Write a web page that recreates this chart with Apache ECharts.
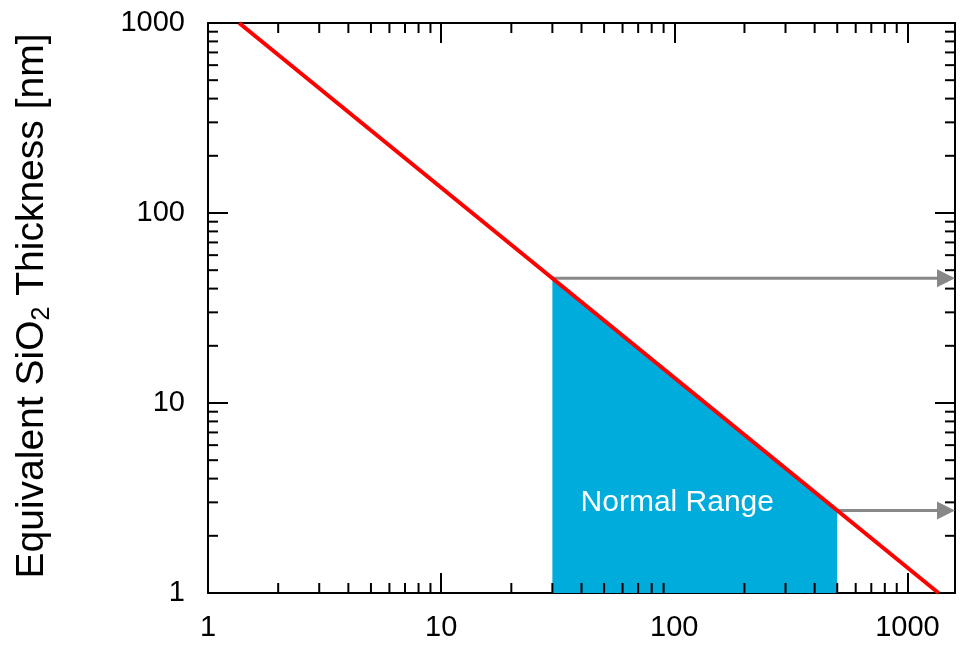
<!DOCTYPE html>
<html>
<head>
<meta charset="utf-8">
<script src="https://cdn.jsdelivr.net/npm/echarts@6/dist/echarts.min.js"></script>
<style>
  html, body { margin: 0; padding: 0; background: #fff; }
  #chart { width: 962px; height: 648px; }
</style>
</head>
<body>
<div id="chart"></div>
<script>
// axis ranges (log scales)
const X_MIN = 1, X_MAX = 1600
const Y_MIN = 1, Y_MAX = 1000

// minor tick values between decades
const xMinor = [2, 3, 4, 5, 6, 7, 8, 9, 20, 30, 40, 50, 60, 70, 80, 90, 200, 300, 400, 500, 600, 700, 800, 900]
const yMinor = [2, 3, 4, 5, 6, 7, 8, 9, 20, 30, 40, 50, 60, 70, 80, 90, 200, 300, 400, 500, 600, 700, 800, 900]

// red limit line (thickness vs x)
const limitX = [1.36, 1360]
const limitY = [1000, 1]

// shaded "normal range"
const rangeX = [30, 500]
const rangeTop = [45.3, 2.72]

// arrows start on the red line and run to the right edge
const arrowX = [30, 500]
const arrowY = [45.3, 2.72]

const labelPos = [103, 3.0]
const labelText = 'Normal Range'

const FONT = 'Arial, "Liberation Sans", sans-serif'

const chart = echarts.init(document.getElementById('chart'))

const isPow10 = v => Math.abs(Math.log10(v) - Math.round(Math.log10(v))) < 1e-6

const axisCommon = {
  type: 'log',
  logBase: 10,
  axisLine: { show: true, onZero: false, lineStyle: { color: '#000', width: 2 } },
  axisTick: { show: true, inside: true, length: 20, lineStyle: { color: '#000', width: 2 } },
  splitLine: { show: false },
  minorTick: { show: false },
  minorSplitLine: { show: false }
}

const labelCommon = {
  color: '#000',
  fontSize: 29,
  fontFamily: FONT,
  showMaxLabel: false,
  formatter: v => (isPow10(v) ? String(Math.round(v)) : '')
}

const option = {
  animation: false,
  backgroundColor: '#fff',
  grid: { left: 208, right: 7, top: 23, bottom: 55, containLabel: false },
  xAxis: [
    Object.assign({}, axisCommon, {
      min: X_MIN, max: X_MAX, position: 'bottom',
      axisLabel: Object.assign({}, labelCommon, { margin: 20 })
    }),
    Object.assign({}, axisCommon, {
      min: X_MIN, max: X_MAX, position: 'top',
      axisLabel: { show: false }
    })
  ],
  yAxis: [
    Object.assign({}, axisCommon, {
      min: Y_MIN, max: Y_MAX, position: 'left',
      axisLabel: Object.assign({}, labelCommon, { margin: 23, showMaxLabel: true })
    }),
    Object.assign({}, axisCommon, {
      min: Y_MIN, max: Y_MAX, position: 'right',
      axisLabel: { show: false }
    })
  ],
  graphic: [{
    type: 'text',
    x: 32,
    y: 306,
    rotation: Math.PI / 2,
    style: {
      text: '{a|Equivalent SiO}{s|2}{a| Thickness [nm]}',
      align: 'center',
      verticalAlign: 'middle',
      fill: '#000',
      rich: {
        a: { fontSize: 39, fontFamily: FONT, lineHeight: 46 },
        s: { fontSize: 25, fontFamily: FONT, lineHeight: 29, verticalAlign: 'bottom' }
      }
    }
  }],
  series: [
    {
      // blue normal range area
      type: 'custom',
      z: 1,
      data: [[rangeX[0], Y_MIN]],
      renderItem: (params, api) => {
        const pts = [
          api.coord([rangeX[0], Y_MIN]),
          api.coord([rangeX[0], rangeTop[0]]),
          api.coord([rangeX[1], rangeTop[1]]),
          api.coord([rangeX[1], Y_MIN])
        ]
        return { type: 'polygon', shape: { points: pts }, style: { fill: '#00acdc' } }
      }
    },
    {
      // gray arrows
      type: 'custom',
      z: 2,
      data: arrowX.map((x, i) => [x, arrowY[i]]),
      renderItem: (params, api) => {
        const p0 = api.coord([api.value(0), api.value(1)])
        const p1 = api.coord([X_MAX, api.value(1)])
        return {
          type: 'group',
          children: [
            { type: 'line', shape: { x1: p0[0], y1: p0[1], x2: p1[0] - 16, y2: p1[1] },
              style: { stroke: '#888888', lineWidth: 3 } },
            { type: 'polygon', shape: { points: [[p1[0], p1[1]], [p1[0] - 18, p1[1] - 9], [p1[0] - 18, p1[1] + 9]] },
              style: { fill: '#888888' } }
          ]
        }
      }
    },
    {
      // minor ticks on bottom and top
      type: 'custom',
      z: 3,
      data: xMinor.map(v => [v, Y_MIN]),
      renderItem: (params, api) => {
        const b = api.coord([api.value(0), Y_MIN])
        const t = api.coord([api.value(0), Y_MAX])
        const st = { stroke: '#000', lineWidth: 2 }
        return {
          type: 'group',
          children: [
            { type: 'line', shape: { x1: b[0], y1: b[1], x2: b[0], y2: b[1] - 10 }, style: st },
            { type: 'line', shape: { x1: t[0], y1: t[1], x2: t[0], y2: t[1] + 10 }, style: st }
          ]
        }
      }
    },
    {
      // minor ticks on left and right
      type: 'custom',
      z: 3,
      data: yMinor.map(v => [X_MIN, v]),
      renderItem: (params, api) => {
        const l = api.coord([X_MIN, api.value(1)])
        const r = api.coord([X_MAX, api.value(1)])
        const st = { stroke: '#000', lineWidth: 2 }
        return {
          type: 'group',
          children: [
            { type: 'line', shape: { x1: l[0], y1: l[1], x2: l[0] + 10, y2: l[1] }, style: st },
            { type: 'line', shape: { x1: r[0], y1: r[1], x2: r[0] - 10, y2: r[1] }, style: st }
          ]
        }
      }
    },
    {
      type: 'line',
      z: 4,
      data: limitX.map((x, i) => [x, limitY[i]]),
      showSymbol: false,
      symbol: 'none',
      lineStyle: { color: '#ff0000', width: 4 }
    },
    {
      type: 'scatter',
      z: 5,
      symbolSize: 0,
      data: [labelPos],
      itemStyle: { opacity: 1 },
      emphasis: { disabled: true },
      label: {
        show: true,
        position: 'inside',
        formatter: labelText,
        color: '#ffffff',
        opacity: 1,
        fontSize: 30,
        fontFamily: FONT
      }
    }
  ]
}

chart.setOption(option)
window.addEventListener('resize', () => chart.resize())
</script>
</body>
</html>
